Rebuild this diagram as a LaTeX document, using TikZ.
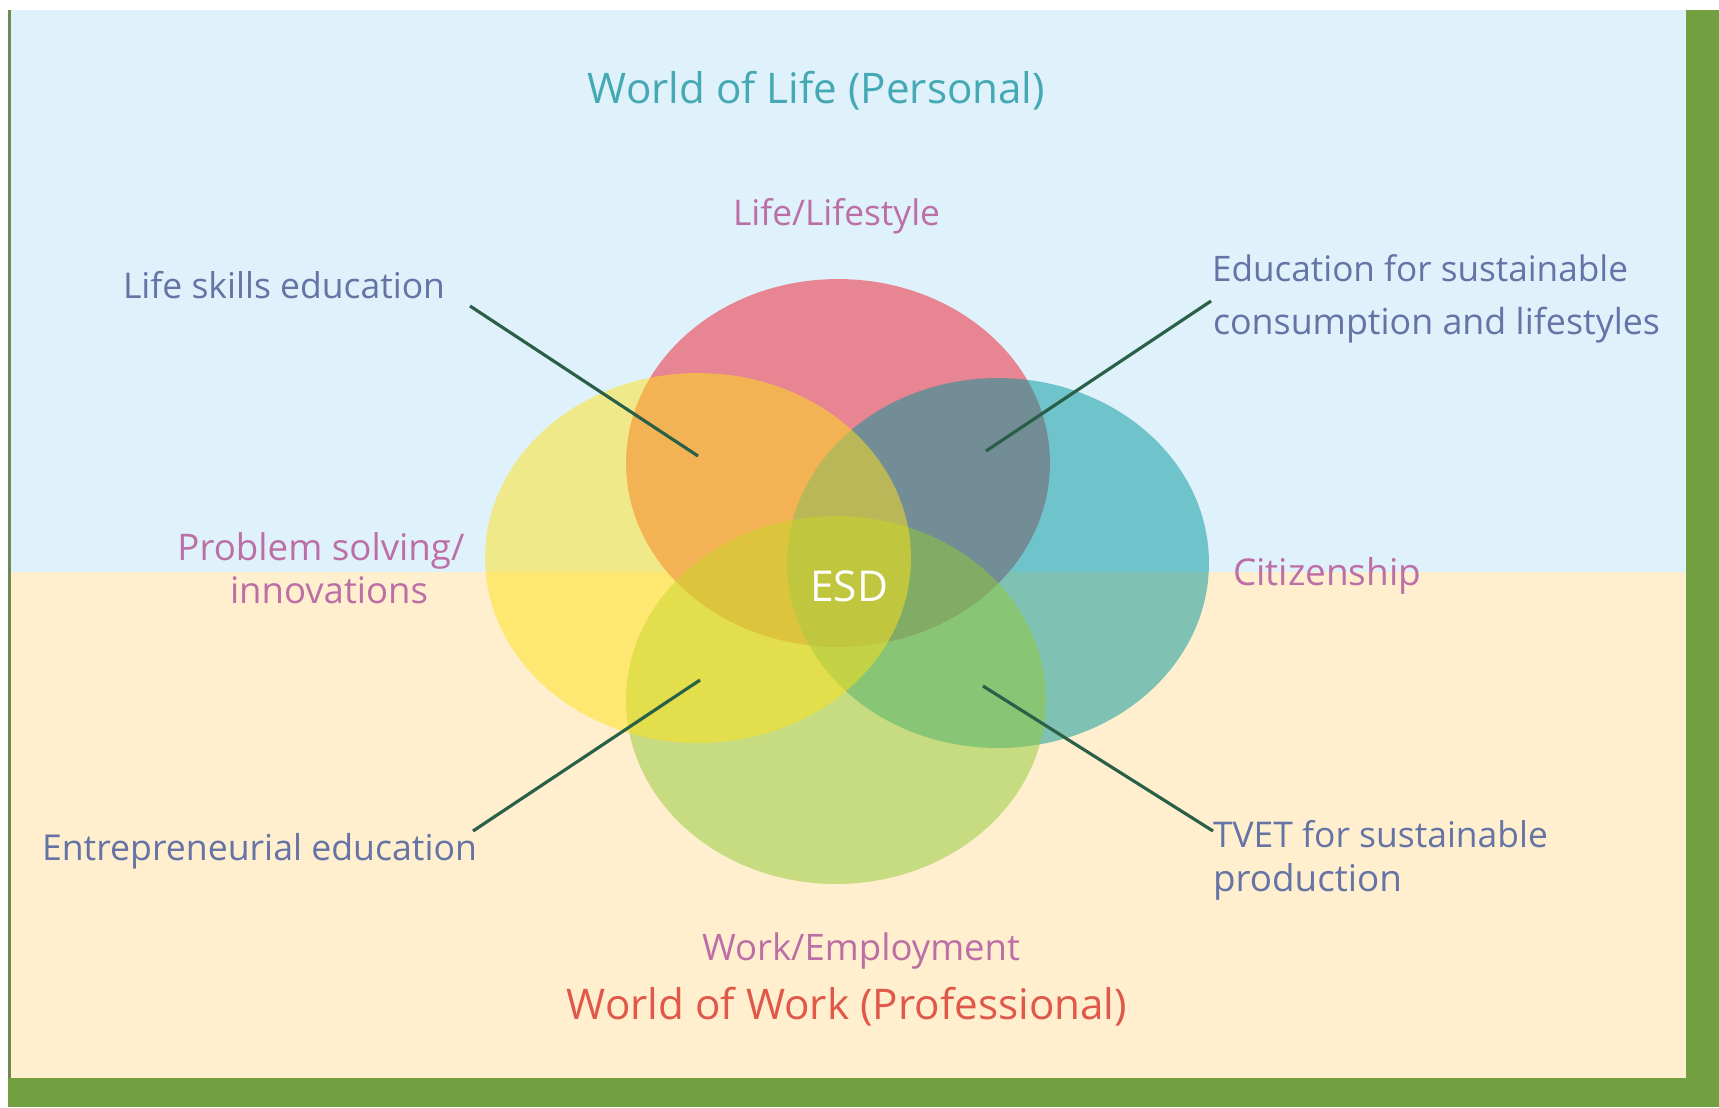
\documentclass[tikz,border=0pt]{standalone}
\usepackage{fontspec}
\setmainfont{Open Sans}
\usepackage{graphicx}
\newlength\unitpx
\setlength\unitpx{0.02cm}
\newcommand\fitw[2]{\resizebox{#1\unitpx}{!}{#2}}
\definecolor{skyc}{HTML}{DFF1FB}
\definecolor{creamc}{HTML}{FFEFCE}
\definecolor{barc}{HTML}{72A041}
\definecolor{edgec}{HTML}{6F8A50}
\definecolor{redc}{HTML}{E88592}
\definecolor{bluec}{RGB}{0,150,156}
\definecolor{greenc}{RGB}{145,201,54}
\definecolor{yellowc}{RGB}{255,226,24}
\definecolor{leadc}{HTML}{2A6048}
\definecolor{tealtxt}{HTML}{45A9B4}
\definecolor{pinktxt}{HTML}{BC6FA6}
\definecolor{slatetxt}{HTML}{6573A5}
\definecolor{coraltxt}{HTML}{E0584A}
\begin{document}
\begin{tikzpicture}[x=0.02cm,y=-0.02cm]
\tikzset{
  lbl/.style={inner sep=0pt, outer sep=0pt, font=\fontsize{20}{24}\selectfont},
  slate/.style={lbl, text=slatetxt},
  pinkl/.style={lbl, text=pinktxt},
  leader/.style={draw=leadc, line width=1.8pt},
  blob/.style={fill opacity=0.5}
}
\useasboundingbox (0,0) rectangle (1719,1107);
% background
\fill[white] (0,0) rectangle (1719,1107);
\fill[skyc] (11,10) rectangle (1686,572);
\fill[creamc] (11,572) rectangle (1686,1078);
\fill[edgec] (8,10) rectangle (11,1078);
\fill[barc] (1686,10) rectangle (1719,1107);
\fill[barc] (8,1078) rectangle (1719,1107);
% circles
\fill[redc] (838,463) ellipse [x radius=4.24cm, y radius=3.68cm];
\fill[bluec, blob] (998,563) ellipse [x radius=4.22cm, y radius=3.70cm];
\fill[greenc, blob] (836,700) ellipse [x radius=4.20cm, y radius=3.68cm];
\fill[yellowc, blob] (698,558) ellipse [x radius=4.26cm, y radius=3.70cm];
% titles
\node[lbl, text=tealtxt, anchor=base] (wlife) at (816.5,103) {\fitw{457}{World of Life (Personal)}};
\node[pinkl, anchor=base] (life) at (836.5,225) {\fitw{207}{Life/Lifestyle}};
\node[pinkl, anchor=base] (work) at (861,960) {\fitw{318}{Work/Employment}};
\node[lbl, text=coraltxt, anchor=base] (wwork) at (847,1019) {\fitw{560}{World of Work (Professional)}};
% side labels
\node[slate, anchor=base west] (lse) at (123,298) {\fitw{322}{Life skills education}};
\node[slate, anchor=base west] (esc1) at (1212,281) {\fitw{416}{Education for sustainable}};
\node[slate, anchor=base west] (esc2) at (1213,334) {\fitw{447}{consumption and lifestyles}};
\node[pinkl, anchor=base] (ps1) at (321,560) {\fitw{287}{Problem solving/}};
\node[pinkl, anchor=base] (ps2) at (329,603) {\fitw{198}{innovations}};
\node[pinkl, anchor=base west] (cit) at (1233,585) {\fitw{188}{Citizenship}};
\node[slate, anchor=base west] (ent) at (42,860) {\fitw{435}{Entrepreneurial education}};
\node[slate, anchor=base west] (tvet1) at (1213,847) {\fitw{335}{TVET for sustainable}};
\node[slate, anchor=base west] (tvet2) at (1213,891) {\fitw{189}{production}};
\node[lbl, text=white, anchor=base] (esd) at (849,601) {\fitw{78}{ESD}};
% leader lines
\coordinate (a1) at (470,306);
\coordinate (a2) at (698,456);
\coordinate (b1) at (1211,301);
\coordinate (b2) at (986,451);
\coordinate (c1) at (473,831);
\coordinate (c2) at (700,680);
\coordinate (d1) at (1213,831);
\coordinate (d2) at (983,686);
\draw[leader] (a1) -- (a2);
\draw[leader] (b1) -- (b2);
\draw[leader] (c1) -- (c2);
\draw[leader] (d1) -- (d2);
\end{tikzpicture}
\end{document}
